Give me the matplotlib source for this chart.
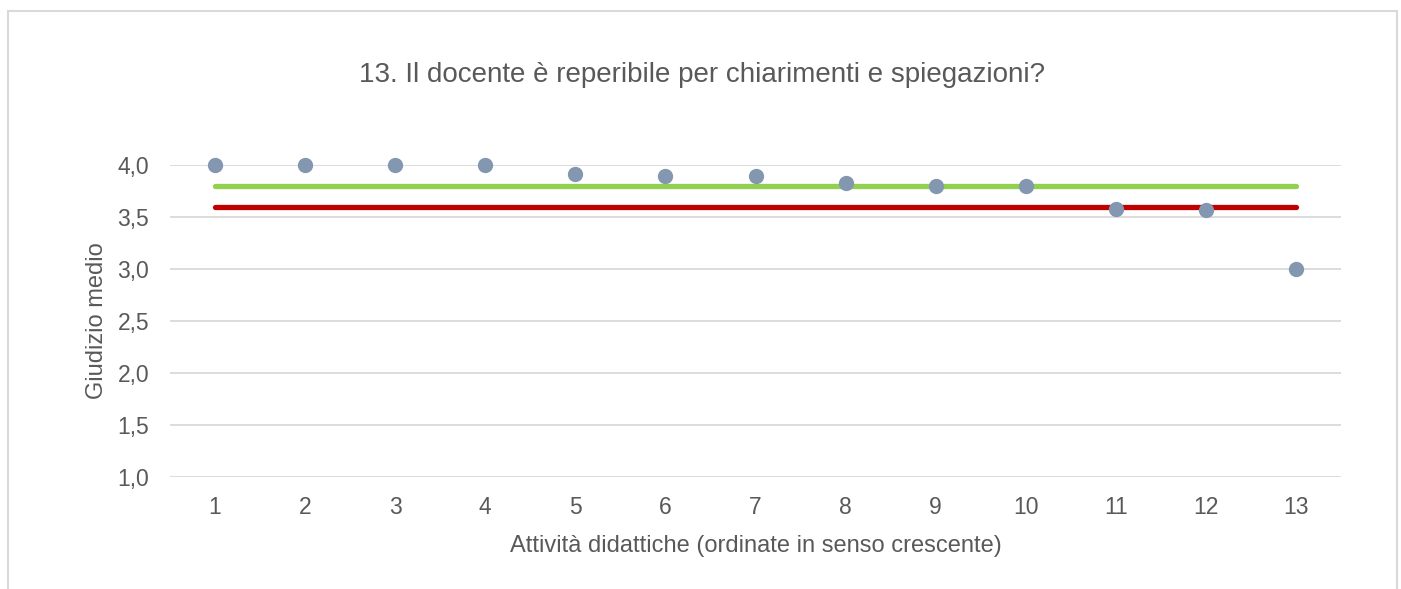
import matplotlib
matplotlib.use("Agg")
import matplotlib.pyplot as plt
from matplotlib.patches import Rectangle

plt.rcParams['font.family'] = ['Liberation Sans', 'DejaVu Sans']

attivita = list(range(1, 14))
giudizio = [4.0, 4.0, 4.0, 4.0, 3.91, 3.89, 3.89, 3.83, 3.80, 3.80, 3.58, 3.57, 3.0]
media_verde = 3.80
media_rossa = 3.60
yticks = [1.0, 1.5, 2.0, 2.5, 3.0, 3.5, 4.0]
ytick_labels = ["1,0", "1,5", "2,0", "2,5", "3,0", "3,5", "4,0"]

text_color = "#595959"

fig = plt.figure(figsize=(14.01, 5.89), dpi=100)
fig.patches.append(Rectangle((8/1401, -0.1), (1397-8)/1401, 1.1 - 11/589,
                             transform=fig.transFigure, fill=False,
                             edgecolor="#D9D9D9", linewidth=1.5))

ax = fig.add_axes([170/1401, 1 - 477/589, (1341-170)/1401, (477-165)/589])
ax.set_xlim(0.5, 13.5)
ax.set_ylim(1.0, 4.0)

ax.set_yticks(yticks)
ax.set_yticklabels(ytick_labels)
ax.set_xticks(attivita)
ax.set_xticklabels([str(a) for a in attivita])
ax.grid(axis='y', color="#D9D9D9", linewidth=1.3)
ax.set_axisbelow(True)
for s in ax.spines.values():
    s.set_visible(False)
ax.tick_params(axis='both', length=0, colors=text_color, labelsize=16.5)
ax.tick_params(axis='x', pad=14)
ax.tick_params(axis='y', pad=15)

ax.plot([attivita[0], attivita[-1]], [media_verde, media_verde], color="#92D050",
        linewidth=3.8, solid_capstyle='round', zorder=2)
ax.plot([attivita[0], attivita[-1]], [media_rossa, media_rossa], color="#C00000",
        linewidth=3.8, solid_capstyle='round', zorder=2)
ax.plot(attivita, giudizio, linestyle='none', marker='o', markersize=10,
        color="#8497B0", clip_on=False, zorder=3)

ax.set_xlabel("Attività didattiche (ordinate in senso crescente)", color=text_color,
              fontsize=17, labelpad=11)
ax.set_ylabel("Giudizio medio", color=text_color, fontsize=17, labelpad=7)

fig.text((357+1047)/2/1401, 1 - 75/589, "13. Il docente è reperibile per chiarimenti e spiegazioni?",
         ha='center', va='center', color=text_color, fontsize=20)

fig.savefig("out.png", dpi=100)
